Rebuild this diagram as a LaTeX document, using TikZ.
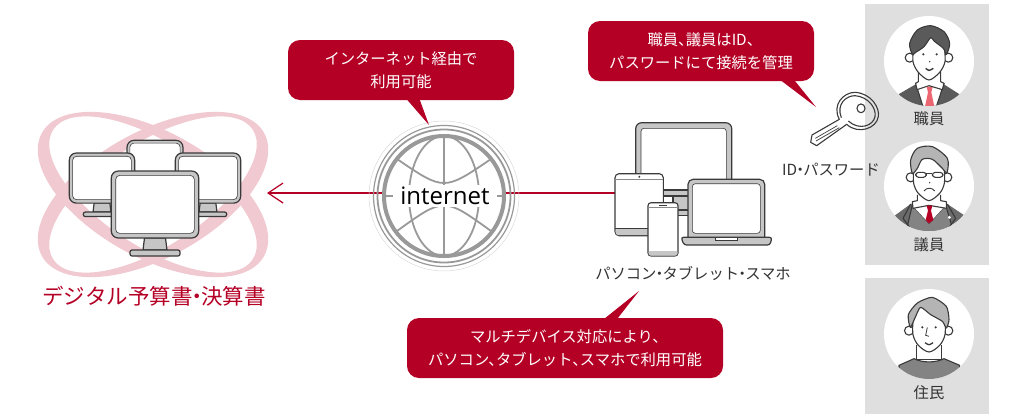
\documentclass[tikz,border=0pt]{standalone}
\usepackage{fontspec}
\setmainfont{Noto Sans CJK JP}
\newfontfamily\latinfont{Open Sans}
\usetikzlibrary{arrows.meta}
\definecolor{bubbleRed}{HTML}{B50026}
\definecolor{ringPink}{HTML}{F0C9D1}
\definecolor{panelGray}{HTML}{DFDFDF}
\definecolor{lineDark}{HTML}{3A3A3A}
\definecolor{frameGray}{HTML}{C6C6C6}
\definecolor{globeGray}{HTML}{999999}
\definecolor{labelGray}{HTML}{333333}
\definecolor{suitGray}{HTML}{5A5A5A}
\definecolor{hairGray}{HTML}{B4B4B4}

\begin{document}
\begin{tikzpicture}[x=1pt,y=-1pt]

\tikzstyle{bubble}=[rectangle,rounded corners=12pt,fill=bubbleRed,text=white,font=\fontsize{15.3}{23}\selectfont,align=center,inner sep=0pt]
\tikzstyle{caption}=[text=labelGray,font=\fontsize{15.3}{18}\selectfont,inner sep=0pt]
\tikzstyle{frame}=[draw=lineDark,line width=1.2pt,fill=frameGray]
\tikzstyle{glass}=[draw=lineDark,line width=.6pt,fill=white]
\tikzstyle{outline}=[draw=lineDark,line width=1.1pt,line join=round]
\tikzstyle{ring}=[draw=globeGray,line width=1.8pt]

% tight punctuation
\def\midDot{\kern-.3em・\kern-.3em}
\def\comma{、\kern-.5em}

% one monitor, (x of middle, y of top, scale)
\def\screen#1#2#3{
\begin{scope}[shift={(#1,#2)},scale=#3]
\draw[frame] (-10.5,67) -- (-12,79) -- (12,79) -- (10.5,67) -- cycle;
\draw[frame,rounded corners=2pt] (-25,79) -- (25,79) -- (25,85) -- (-25,85) -- cycle;
\draw[frame,rounded corners=7pt] (-43.7,0) rectangle (43.7,67);
\draw[glass,rounded corners=4pt] (-39.3,4.4) rectangle (39.3,62.4);
\end{scope}
}

\useasboundingbox (0,0) rectangle (1023,418);

%panels
\fill[panelGray] (865,4) rectangle (989,265);
\fill[panelGray] (865,278) rectangle (989,414);
\fill[white] (929,61) circle [radius=45pt];
\fill[white] (929,186) circle [radius=45pt];
\fill[white] (929,334) circle [radius=45pt];

%rings behind the monitors
\fill[ringPink,even odd rule] (153,194.5) ellipse [x radius=127pt,y radius=63pt,rotate=29]
  (153,194.5) ellipse [x radius=119pt,y radius=52pt,rotate=33];
\fill[ringPink,even odd rule] (153,194.5) ellipse [x radius=127pt,y radius=63pt,rotate=-29]
  (153,194.5) ellipse [x radius=119pt,y radius=52pt,rotate=-33];

\screen{155}{140.3}{.64}
\screen{102}{153}{.748}
\screen{208}{153}{.748}
\screen{155}{171}{1}

\node[text=bubbleRed,font=\fontsize{21.5}{26}\selectfont,inner sep=0pt] (budgetLabel) at (154,296) {デジタル予算書\midDot 決算書};

%connections
\coordinate (monitorEdge) at (267,193);
\coordinate (globeLeft) at (383,193);
\coordinate (globeRight) at (506,193);
\coordinate (tabletEdge) at (615,193);
\draw[->,>={Straight Barb[length=15pt,width=20pt]},draw=bubbleRed,line width=1.2pt] (globeLeft) -- (monitorEdge);
\draw[draw=bubbleRed,line width=1.2pt] (globeRight) -- (tabletEdge);

%globe
\draw[draw=black!15,line width=.5pt] (444,196) circle [radius=75pt];
\draw[ring,line width=1.2pt] (444,196) circle [radius=70.5pt];
\draw[ring] (444,196) circle [radius=66.5pt];
\draw[ring,line width=4pt] (444,196) circle [radius=60pt];
\draw[ring] (444,136) -- (444,256);
\draw[ring] (444,196) ellipse [x radius=35pt,y radius=60pt];
\draw[ring] (397,159) .. controls (444,191) .. (491,159);
\draw[ring] (397,231) .. controls (444,197) .. (491,231);
\draw[ring] (384,196) -- (504,196);
\node[fill=white,minimum width=104pt,minimum height=22pt,inner sep=0pt,font=\latinfont\fontsize{24}{28}\selectfont] (globe) at (445,196) {internet};

%devices
\draw[frame,rounded corners=6pt] (635.7,196) -- (635.7,122.7) -- (731.7,122.7) -- (731.7,196);
\draw[glass,rounded corners=3pt] (641,190) -- (641,128.3) -- (726.3,128.3) -- (726.3,190);
\draw[frame] (650,190) rectangle (700,196);
\draw[frame] (673,196) rectangle (700,210);
\draw[frame] (650,210) rectangle (700,215.5);

\draw[glass,line width=1.1pt,rounded corners=4pt] (615,173.7) rectangle (663.3,235.7);
\fill[frameGray,rounded corners=3pt] (615.6,228.5) rectangle (662.8,235.2);
\draw[lineDark,line width=.6pt] (615,228.5) -- (663,228.5);
\draw[lineDark!60,line width=.6pt] (615,179.5) -- (663,179.5);
\fill[lineDark] (639.3,176.8) circle [radius=1.1pt];

\draw[glass,line width=1.1pt,rounded corners=3pt] (648,202.7) rectangle (678,256);
\fill[frameGray,rounded corners=2pt] (648.5,251) rectangle (677.5,255.5);
\draw[lineDark!60,line width=.6pt] (648,207) -- (678,207);
\draw[lineDark,line width=1pt] (659,205.2) -- (667,205.2);

\draw[frame,rounded corners=5pt] (688,237.3) -- (688,179.3) -- (764.7,179.3) -- (764.7,237.3);
\draw[glass,rounded corners=3pt] (692.3,183.7) rectangle (760.3,233.3);
\draw[frame,rounded corners=2.5pt] (681,237.3) -- (772,237.3) -- (770,245) -- (684,245) -- cycle;
\draw[glass] (715.3,237.5) rectangle (737.3,240.3);

\node[caption] (deviceLabel) at (693,274) {パソコン\midDot タブレット\midDot スマホ};

%key
\begin{scope}[shift={(800,85)},x=.3333pt,y=-.3333pt]
\draw[outline] (36,150) -- (118,103) .. controls (95,60) and (130,22) .. (165,22)
  .. controls (215,25) and (240,70) .. (235,95) .. controls (230,130) and (175,150) .. (140,118)
  -- (50,182) -- (32,172) -- cycle;
\draw[outline] (124,98) .. controls (108,58) and (138,32) .. (165,32) .. controls (205,35) and (230,70) .. (225,95)
  .. controls (220,122) and (178,138) .. (145,108);
\draw[outline] (183,70) ellipse [x radius=4pt,y radius=4.4pt];
\draw[outline,line width=.7pt] (46,160) -- (112,122);
\draw[outline,line width=.7pt] (48,168) -- (118,128);
\end{scope}
\node[caption] (keyLabel) at (831,170) {ID\midDot パスワード};

%staff member
\begin{scope}[shift={(889,15)},x=.3333pt,y=-.3333pt]
\clip (120,138) circle [radius=45pt];
\fill[suitGray] (25,240) -- (85,205) -- (160,205) -- (215,240) -- (215,280) -- (25,280) -- cycle;
\draw[outline,fill=white] (80,205) -- (102,275) -- (142,275) -- (165,205) -- cycle;
\fill[red!55!bubbleRed!60] (113,215) -- (131,215) -- (127,232) -- (136,275) -- (108,275) -- (117,232) -- cycle;
\draw[outline,fill=white] (88,170) -- (88,200) -- (80,205) -- (84,224) -- (120,212) -- (160,224) -- (165,205) -- (155,200) -- (155,170);
\draw[outline,fill=white] (62,128) circle [radius=4.5pt];
\draw[outline,fill=white] (178,128) circle [radius=4.5pt];
\draw[outline,fill=white] plot[smooth] coordinates {(74,95) (72,140) (88,172) (120,195) (152,172) (168,140) (166,95)};
\draw[outline,fill=suitGray] plot[smooth cycle,tension=.5] coordinates {(70,118) (62,85) (85,45) (125,32) (165,50) (182,85) (172,118) (163,100) (135,78) (125,68) (105,95) (80,112)};
\fill[lineDark] (103,118) circle [radius=1.2pt];
\fill[lineDark] (143,118) circle [radius=1.2pt];
\fill[lineDark] (122,140) circle [radius=.8pt];
\draw[lineDark,line width=1.4pt] (110,160) .. controls (120,168) .. (133,160);
\end{scope}
\node[caption] (staffLabel) at (929,119) {職員};

%assembly member
\begin{scope}[shift={(889,140)},x=.3333pt,y=-.3333pt]
\clip (120,138) circle [radius=45pt];
\fill[suitGray!90] (10,232) -- (65,192) -- (175,192) -- (235,232) -- (235,280) -- (10,280) -- cycle;
\draw[outline,fill=suitGray!75] (70,195) -- (120,250) -- (170,195) -- (195,280) -- (50,280) -- cycle;
\fill[white] (72,198) -- (168,198) -- (120,250) -- cycle;
\draw[outline,fill=white] (85,165) -- (85,182) -- (70,185) -- (72,205) -- (120,196) -- (172,205) -- (172,185) -- (155,182) -- (155,165);
\fill[bubbleRed] (113,197) -- (130,197) -- (126,212) -- (133,240) -- (120,250) -- (110,240) -- (117,212) -- cycle;
\draw[outline] (65,192) -- (42,235) -- (62,262);
\draw[outline] (175,192) -- (200,235) -- (180,262);
\fill[white] (181,232) circle [radius=1.6pt];
\draw[outline,fill=white] (65,112) circle [radius=4.5pt];
\draw[outline,fill=white] (175,112) circle [radius=4.5pt];
\draw[outline,fill=white] plot[smooth] coordinates {(74,85) (74,130) (88,160) (120,182) (152,160) (166,130) (166,85)};
\draw[outline,fill=hairGray] plot[smooth cycle,tension=.5] coordinates {(70,100) (65,60) (85,25) (130,20) (175,55) (174,98) (160,85) (130,58) (100,58) (85,85)};
\draw[outline,fill=white,rounded corners=3pt] (80,97) rectangle (112,112);
\draw[outline,fill=white,rounded corners=3pt] (130,97) rectangle (162,112);
\draw[outline] (112,101) -- (130,101);
\fill[lineDark] (122,128) circle [radius=.8pt];
\draw[lineDark,line width=.9pt] (105,153) .. controls (112,142) and (130,142) .. (137,153);
\end{scope}
\node[caption] (memberLabel) at (929,245) {議員};

%resident
\begin{scope}[shift={(889,288)},x=.3333pt,y=-.3333pt]
\clip (120,138) circle [radius=45pt];
\draw[outline,fill=white] (82,170) -- (82,215) -- (158,215) -- (158,170);
\draw[outline,fill=suitGray!75] (30,232) -- (75,212) .. controls (100,225) and (140,225) .. (165,212) -- (212,232) -- (212,280) -- (30,280) -- cycle;
\draw[outline,fill=white] (60,128) circle [radius=4.5pt];
\draw[outline,fill=white] (178,128) circle [radius=4.5pt];
\draw[outline,fill=white] plot[smooth] coordinates {(72,90) (72,140) (88,172) (120,192) (152,172) (168,140) (168,90)};
\draw[outline,fill=hairGray] plot[smooth cycle,tension=.4] coordinates {(64,118) (58,80) (85,45) (130,28) (172,55) (180,95) (172,120) (160,100) (125,80) (95,58) (80,85)};
\fill[lineDark] (100,118) circle [radius=1.2pt];
\fill[lineDark] (140,118) circle [radius=1.2pt];
\draw[lineDark,line width=.8pt] (115,118) -- (110,142) -- (120,145);
\draw[lineDark,line width=1.3pt] (108,164) .. controls (120,172) .. (132,164);
\end{scope}
\node[caption] (residentLabel) at (929,393) {住民};

%callouts
\fill[bubbleRed] (403,95) -- (429,125) -- (418,95) -- cycle;
\fill[bubbleRed] (775,76) -- (816,107) -- (791,76) -- cycle;
\fill[bubbleRed] (599,323) -- (639,291) -- (614,323) -- cycle;
\node[bubble,minimum width=226pt,minimum height=60pt] (internetNote) at (401,70) {インターネット経由で\\利用可能};
\node[bubble,minimum width=226pt,minimum height=60pt] (passwordNote) at (701,51) {職員\comma 議員はID\comma\\パスワードにて接続を管理};
\node[bubble,minimum width=316pt,minimum height=60pt] (deviceNote) at (565,348) {マルチデバイス対応により\comma\\パソコン\comma タブレット\comma スマホで利用可能};

\end{tikzpicture}
\end{document}
